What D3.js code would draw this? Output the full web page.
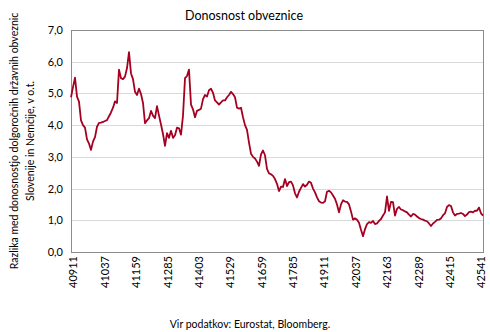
<!DOCTYPE html>
<html>
<head>
<meta charset="utf-8">
<script src="https://cdn.jsdelivr.net/npm/d3@7"></script>
<style>
  html, body { margin: 0; padding: 0; background: #fff; }
  svg text { font-family: Lato, "Open Sans", sans-serif; fill: #000; }
</style>
</head>
<body>
<svg id="chart" width="490" height="332"></svg>
<script>
const title = "Donosnost obveznice";
const yTitleLines = ["Razlika med donosnostjo dolgoročnih državnih obveznic", "Slovenije in Nemčije, v o.t."];
const source = "Vir podatkov: Eurostat, Bloomberg.";
const xTickLabels = ["40911","41037","41159","41285","41403","41529","41659","41785","41911","42037","42163","42289","42415","42541"];
const yTicks = [0,1,2,3,4,5,6,7];
const values = [
  4.88,5.20,5.50,4.90,4.74,4.15,4.00,3.92,3.55,3.42,3.22,3.48,3.62,3.95,4.07,4.08,4.10,4.13,4.16,4.28,
  4.40,4.55,4.75,4.70,5.75,5.48,5.45,5.53,5.80,6.30,5.63,5.45,5.05,4.95,5.15,4.98,4.70,4.06,4.15,4.22,
  4.45,4.30,4.22,4.60,4.30,4.02,3.72,3.35,3.75,3.60,3.82,3.60,3.68,3.92,3.90,3.70,4.30,5.48,5.55,5.75,
  4.65,4.50,4.25,4.45,4.48,4.52,4.82,4.95,4.90,5.10,5.15,5.02,4.78,4.72,4.65,4.72,4.78,4.78,4.88,4.95,
  5.05,4.98,4.88,4.55,4.52,4.55,4.25,4.00,3.85,3.45,3.10,3.00,2.95,2.85,2.72,3.08,3.20,3.05,2.62,2.48,
  2.45,2.40,2.30,2.15,1.92,2.06,2.05,2.30,2.08,2.20,2.22,2.10,1.85,1.72,1.90,2.02,2.14,2.06,2.12,2.22,
  2.18,2.00,1.88,1.72,1.60,1.56,1.55,1.60,1.90,1.93,1.88,1.78,1.68,1.50,1.25,1.50,1.63,1.59,1.58,1.50,
  1.28,1.02,1.06,1.02,0.92,0.70,0.50,0.72,0.88,0.94,0.92,0.98,0.88,0.90,0.98,1.04,1.15,1.25,1.75,1.30,
  1.58,1.57,1.15,1.36,1.42,1.34,1.32,1.28,1.25,1.18,1.12,1.20,1.18,1.12,1.07,1.04,1.02,0.99,0.97,0.90,
  0.82,0.90,0.95,1.01,1.02,1.06,1.16,1.22,1.42,1.48,1.45,1.25,1.15,1.20,1.21,1.23,1.20,1.13,1.18,1.26,
  1.27,1.25,1.30,1.30,1.40,1.22,1.15
];

const svg = d3.select("#chart");
const m = { left: 71, right: 483, top: 30, bottom: 252 };

const y = d3.scaleLinear().domain([0, 7]).range([m.bottom, m.top]);
const x = d3.scaleLinear().domain([0, values.length - 1]).range([m.left, m.right]);
const xt = d3.scalePoint().domain(xTickLabels).range([73, 481]);

// gridlines
svg.append("g").selectAll("line").data(yTicks.filter(d => d > 0 && d < 7)).join("line")
  .attr("x1", m.left).attr("x2", m.right)
  .attr("y1", d => Math.round(y(d)) + 0.5).attr("y2", d => Math.round(y(d)) + 0.5)
  .attr("stroke", "#d9d9d9").attr("stroke-width", 1);

// plot border
svg.append("rect")
  .attr("x", m.left + 0.5).attr("y", m.top + 0.5)
  .attr("width", m.right - m.left).attr("height", m.bottom - m.top)
  .attr("fill", "none").attr("stroke", "#8c8c8c").attr("stroke-width", 1);

// y axis labels
const yAxis = d3.axisLeft(y).tickValues(yTicks).tickSize(0).tickPadding(8)
  .tickFormat(d => d3.format(".1f")(d).replace(".", ","));
const gy = svg.append("g").attr("transform", `translate(${m.left},0)`).call(yAxis);
gy.select(".domain").remove();
gy.selectAll("text").attr("font-size", 11).attr("font-family", "Lato, sans-serif").attr("fill", "#000");

// x axis labels (category)
const xAxis = d3.axisBottom(xt).tickSize(0).tickPadding(0);
const gx = svg.append("g").attr("transform", `translate(0,${m.bottom})`).call(xAxis);
gx.select(".domain").remove();
gx.selectAll("text")
  .attr("font-size", 11).attr("font-family", "Lato, sans-serif").attr("fill", "#000")
  .attr("transform", "rotate(-90)")
  .attr("text-anchor", "end")
  .attr("x", -4).attr("y", 0).attr("dy", "0.35em");

// line
const line = d3.line().x((d, i) => x(i)).y(d => y(d)).curve(d3.curveLinear);
svg.append("path").datum(values)
  .attr("d", line).attr("fill", "none")
  .attr("stroke", "#a50021").attr("stroke-width", 1.8).attr("stroke-linejoin", "round");

// title
svg.append("text").attr("x", 244).attr("y", 20).attr("text-anchor", "middle")
  .attr("font-size", 12.5).text(title);

// y title
const yt = svg.append("text").attr("transform", "translate(14,141) rotate(-90)")
  .attr("text-anchor", "middle").attr("font-size", 10.5);
yTitleLines.forEach((t, i) => {
  yt.append("tspan").attr("x", 0).attr("dy", i === 0 ? "0.35em" : "16").text(t);
});

// source
svg.append("text").attr("x", 250).attr("y", 328).attr("text-anchor", "middle")
  .attr("font-size", 10.5).text(source);
</script>
</body>
</html>
